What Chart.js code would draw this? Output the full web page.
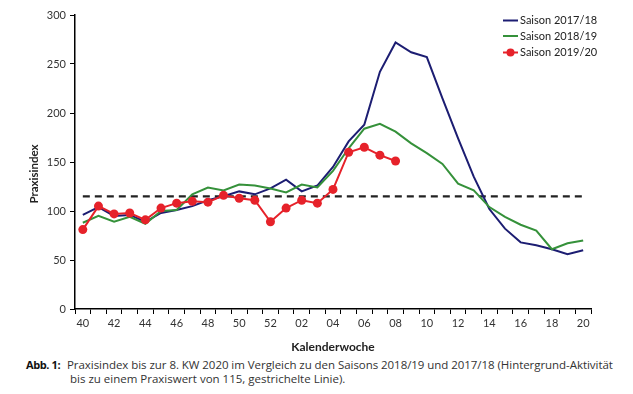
<!DOCTYPE html>
<html lang="de">
<head>
    <meta charset="UTF-8">
    <title>Praxisindex</title>
    <script src="https://cdn.jsdelivr.net/npm/chart.js"></script>
    <style>
        body { margin: 0; background: #fff; font-family: 'Lato', sans-serif; }
        .wrap { position: relative; width: 633px; height: 394px; }
        .chart-box { position: absolute; left: 0; top: 0; width: 633px; height: 355px; }
        .caption { position: absolute; left: 0; top: 358px; width: 633px; font-family: 'Open Sans', sans-serif; font-size: 11.5px; line-height: 14px; color: #333; }
        .caption .abb { position: absolute; left: 26px; top: 0; font-weight: 700; font-size: 11px; letter-spacing: -0.4px; color: #111; }
        .caption .l1 { position: absolute; left: 67px; top: 0; white-space: nowrap; letter-spacing: -0.05px; }
        .caption .l2 { position: absolute; left: 70px; top: 14px; white-space: nowrap; }
    </style>
</head>
<body>
<div class="wrap">
    <div class="chart-box"><canvas id="chart" width="633" height="355"></canvas></div>
    <div class="caption">
        <span class="abb">Abb. 1:</span>
        <span class="l1">Praxisindex bis zur 8. KW 2020 im Vergleich zu den Saisons 2018/19 und 2017/18 (Hintergrund-Aktivität</span>
        <span class="l2">bis zu einem Praxiswert von 115, gestrichelte Linie).</span>
    </div>
</div>

<script>
    // Kalenderwochen 40/2019 .. 20/2020
    const weeks = ['40','41','42','43','44','45','46','47','48','49','50','51','52',
                   '01','02','03','04','05','06','07','08','09','10','11','12','13','14','15','16','17','18','19','20'];

    const saison1718 = [96, 104, 95, 96, 89, 98, 101, 105, 111, 115, 120, 117, 123,
                        132, 120, 126, 145, 171, 188, 242, 272, 262, 257, 215, 174, 135, 102, 82, 68, 65, 61, 56, 60];
    const saison1819 = [88, 95, 89, 94, 87, 100, 101, 117, 124, 121, 127, 126, 123,
                        119, 127, 124, 141, 164, 184, 189, 181, 169, 159, 148, 128, 121, 104, 94, 86, 80, 61, 67, 70];
    const saison1920 = [81, 105, 97, 98, 91, 103, 108, 110, 109, 116, 113, 111, 89,
                        103, 111, 108, 122, 160, 165, 157, 151];

    const yTicks = [0, 50, 100, 150, 200, 250, 300];
    const background = 115;

    const COLORS = { s1718: '#1c1d72', s1819: '#35913a', s1920: '#e6222a', dash: '#222' };

    // legend drawn inside the plot area, top right
    const innerLegend = {
        id: 'innerLegend',
        afterDraw(chart) {
            const ctx = chart.ctx;
            const items = chart.data.datasets.slice(0, 3);
            const x0 = 503, x1 = 518, tx = 520;
            const ys = [20.5, 36, 52.5];
            ctx.save();
            ctx.font = '11px Lato';
            ctx.textBaseline = 'middle';
            items.forEach((ds, i) => {
                ctx.strokeStyle = ds.borderColor;
                ctx.lineWidth = 2;
                ctx.beginPath(); ctx.moveTo(x0, ys[i]); ctx.lineTo(x1, ys[i]); ctx.stroke();
                if (ds.pointRadius > 0) {
                    ctx.fillStyle = ds.pointBackgroundColor;
                    ctx.beginPath(); ctx.arc((x0 + x1) / 2, ys[i], 4, 0, Math.PI * 2); ctx.fill();
                }
                ctx.fillStyle = '#222';
                ctx.fillText(ds.label, tx, ys[i]);
            });
            // y axis title
            ctx.translate(34, 174);
            ctx.rotate(-Math.PI / 2);
            ctx.font = 'bold 11.5px Lato';
            ctx.textAlign = 'center';
            ctx.fillStyle = '#222';
            ctx.fillText('Praxisindex', 0, 0);
            ctx.restore();
        }
    };

    new Chart(document.getElementById('chart'), {
        type: 'line',
        data: {
            labels: weeks,
            datasets: [
                { label: 'Saison 2017/18', data: saison1718, borderColor: COLORS.s1718, borderWidth: 2, pointRadius: 0, order: 2 },
                { label: 'Saison 2018/19', data: saison1819, borderColor: COLORS.s1819, borderWidth: 2, pointRadius: 0, order: 1 },
                { label: 'Saison 2019/20', data: saison1920, borderColor: COLORS.s1920, borderWidth: 2, pointRadius: 4.5,
                  pointBackgroundColor: COLORS.s1920, pointBorderColor: COLORS.s1920, pointBorderWidth: 0, order: 0 },
                { label: 'Hintergrund', data: [{ x: weeks[0], y: background }, { x: weeks[weeks.length - 1], y: background }],
                  borderColor: COLORS.dash, borderWidth: 2.2, borderDash: [7, 5], pointRadius: 0, order: 3 }
            ]
        },
        options: {
            responsive: false,
            animation: false,
            layout: { padding: { left: 0, right: 42, top: 15, bottom: 0 } },
            plugins: { legend: { display: false }, tooltip: { enabled: false } },
            scales: {
                x: {
                    type: 'category',
                    offset: true,
                    afterFit: s => { s.height = 46; },
                    grid: { display: true, drawOnChartArea: false, drawTicks: true, tickLength: 5, color: '#000', offset: true },
                    border: { display: true, color: '#000', width: 1.5 },
                    ticks: {
                        autoSkip: false, maxRotation: 0, padding: 3, color: '#333',
                        font: { family: 'Lato', size: 11 },
                        callback: (v, i) => (i % 2 === 0 ? weeks[i] : '')
                    },
                    title: { display: true, text: 'Kalenderwoche', color: '#222',
                             font: { family: 'Lato', size: 12, weight: 'bold' }, padding: { top: 0, bottom: 1 } }
                },
                y: {
                    min: yTicks[0], max: yTicks[yTicks.length - 1],
                    afterFit: s => { s.width = 75; },
                    afterBuildTicks: s => { s.ticks = yTicks.map(v => ({ value: v })); },
                    grid: { display: true, drawOnChartArea: false, drawTicks: true, tickLength: 5, color: '#000' },
                    border: { display: true, color: '#000', width: 1.5 },
                    ticks: { padding: 4, color: '#333', font: { family: 'Lato', size: 11 } }
                }
            }
        },
        plugins: [innerLegend]
    });
</script>
</body>
</html>
